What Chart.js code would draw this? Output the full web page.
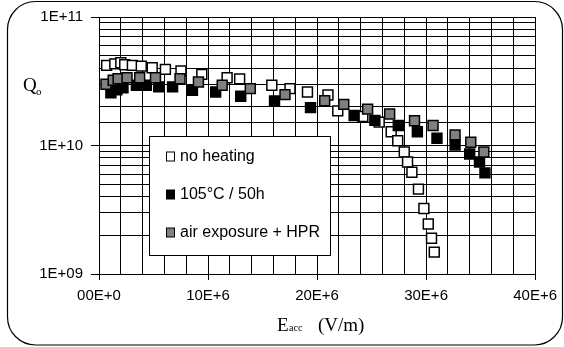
<!DOCTYPE html>
<html lang="en">
<head>
    <meta charset="UTF-8">
    <title>Q0 vs Eacc</title>
    <script src="https://cdn.jsdelivr.net/npm/chart.js"></script>
    <style>
        body { margin: 0; background: #fff; }
        canvas { display: block; }
    </style>
</head>
<body>
    <canvas id="qeChart" width="564" height="347"></canvas>
    <script>
        // accelerating field (V/m) and quality factor for each treatment
        const eNoHeat = [0.70e6, 1.45e6, 2.0e6, 2.36e6, 3.06e6, 3.88e6, 4.88e6, 6.09e6, 7.52e6, 9.43e6, 11.75e6, 12.9e6, 15.85e6, 17.52e6, 19.12e6, 21.0e6, 21.9e6, 24.2e6, 25.7e6, 26.8e6, 27.4e6, 28.0e6, 28.3e6, 28.7e6, 29.3e6, 29.8e6, 30.2e6, 30.5e6, 30.75e6];
        const qNoHeat = [4.20e10, 4.32e10, 4.40e10, 4.25e10, 4.20e10, 4.15e10, 4.03e10, 3.91e10, 3.80e10, 3.58e10, 3.37e10, 3.30e10, 2.94e10, 2.77e10, 2.61e10, 2.47e10, 1.86e10, 1.68e10, 1.52e10, 1.28e10, 1.09e10, 8.9e9, 7.45e9, 6.2e9, 4.58e9, 3.23e9, 2.45e9, 1.90e9, 1.48e9];

        const eBaked = [1.09e6, 1.64e6, 2.2e6, 3.43e6, 4.34e6, 5.48e6, 6.75e6, 8.57e6, 10.7e6, 13.0e6, 16.1e6, 19.4e6, 23.4e6, 25.3e6, 27.45e6, 29.2e6, 31.0e6, 32.66e6, 34.0e6, 34.9e6, 35.4e6];
        const qBaked = [2.57e10, 2.71e10, 2.81e10, 2.94e10, 2.94e10, 2.86e10, 2.86e10, 2.69e10, 2.61e10, 2.42e10, 2.22e10, 1.97e10, 1.71e10, 1.57e10, 1.43e10, 1.28e10, 1.14e10, 1.01e10, 8.58e9, 7.45e9, 6.12e9];

        const eAirHpr = [0.64e6, 1.3e6, 1.75e6, 2.57e6, 3.73e6, 5.18e6, 7.43e6, 9.12e6, 11.3e6, 13.88e6, 17.06e6, 20.7e6, 22.45e6, 24.64e6, 26.66e6, 28.94e6, 30.64e6, 32.66e6, 34.1e6, 35.3e6];
        const qAirHpr = [3.0e10, 3.22e10, 3.31e10, 3.37e10, 3.37e10, 3.37e10, 3.31e10, 3.12e10, 2.94e10, 2.77e10, 2.49e10, 2.23e10, 2.09e10, 1.92e10, 1.76e10, 1.56e10, 1.43e10, 1.21e10, 1.06e10, 8.9e9];

        const seriesLabels = ['no heating', '105°C / 50h', 'air exposure + HPR'];
        const xTickLabels = ['00E+0', '10E+6', '20E+6', '30E+6', '40E+6'];
        const yTickLabels = ['1E+09', '1E+10', '1E+11'];

        const SANS = '"Liberation Sans", Arial, sans-serif';
        const SERIF = '"Liberation Serif", "Times New Roman", serif';

        function points(xs, ys) {
            return xs.map((x, i) => ({ x: x, y: ys[i] }));
        }

        function isDecade(v) {
            const e = Math.round(Math.log10(v));
            return Math.abs(v - Math.pow(10, e)) < 1;
        }

        // rounded frame around the whole figure
        const framePlugin = {
            id: 'frame',
            beforeDraw(chart) {
                const c = chart.ctx;
                c.save();
                c.fillStyle = '#fff';
                c.fillRect(0, 0, chart.width, chart.height);
                c.beginPath();
                c.roundRect(7.5, 1.5, 555, 343.5, 28);
                c.strokeStyle = '#000';
                c.lineWidth = 1.2;
                c.stroke();
                c.restore();
            }
        };

        // boxed legend sitting inside the plot area
        const boxLegend = {
            id: 'boxLegend',
            afterDatasetsDraw(chart) {
                const c = chart.ctx;
                c.save();
                c.fillStyle = '#fff';
                c.fillRect(149.5, 136.5, 181, 119);
                c.strokeStyle = '#000';
                c.lineWidth = 1;
                c.strokeRect(149.5, 136.5, 181, 119);
                c.font = '16px ' + SANS;
                c.textBaseline = 'middle';
                const rows = [156, 194, 232];
                chart.data.datasets.forEach((ds, i) => {
                    const y = rows[i];
                    c.fillStyle = ds.backgroundColor;
                    c.fillRect(166.5, y - 4, 8, 9);
                    c.strokeStyle = '#000';
                    c.lineWidth = 1;
                    c.strokeRect(166.5, y - 4, 8, 9);
                    c.fillStyle = '#000';
                    c.fillText(ds.label, 180, y + 1);
                });
                c.restore();
            }
        };

        // axis titles with subscripts
        const axisTitles = {
            id: 'axisTitles',
            afterDraw(chart) {
                const c = chart.ctx;
                c.save();
                c.fillStyle = '#000';
                c.textBaseline = 'alphabetic';
                c.font = '19px ' + SERIF;
                c.fillText('Q', 23, 91);
                c.font = '11px ' + SERIF;
                c.fillText('o', 36, 95);

                c.font = '19px ' + SERIF;
                c.fillText('E', 277, 331);
                c.font = '10px ' + SERIF;
                c.fillText('acc', 289, 331);
                c.font = '19px ' + SERIF;
                c.fillText('(V/m)', 318, 331);
                c.restore();
            }
        };

        const ctx = document.getElementById('qeChart').getContext('2d');
        new Chart(ctx, {
            type: 'scatter',
            data: {
                datasets: [
                    {
                        label: seriesLabels[0],
                        data: points(eNoHeat, qNoHeat),
                        backgroundColor: '#ffffff',
                        borderColor: '#000',
                        order: 3
                    },
                    {
                        label: seriesLabels[1],
                        data: points(eBaked, qBaked),
                        backgroundColor: '#000000',
                        borderColor: '#000',
                        order: 2
                    },
                    {
                        label: seriesLabels[2],
                        data: points(eAirHpr, qAirHpr),
                        backgroundColor: '#808080',
                        borderColor: '#000',
                        order: 1
                    }
                ]
            },
            options: {
                responsive: false,
                animation: false,
                layout: { padding: { left: 0, right: 25, top: 14, bottom: 0 } },
                elements: {
                    point: { pointStyle: 'rect', radius: 7, borderWidth: 1.5 }
                },
                plugins: {
                    legend: { display: false },
                    tooltip: { enabled: false }
                },
                scales: {
                    x: {
                        type: 'linear',
                        min: 0,
                        max: 40e6,
                        afterFit: s => { s.height = 73; },
                        border: { color: '#000', width: 1 },
                        grid: {
                            color: '#000',
                            lineWidth: 1,
                            tickLength: 6,
                            tickColor: c => (c.tick && c.tick.value % 10e6 === 0) ? '#000' : 'rgba(0,0,0,0)'
                        },
                        ticks: {
                            stepSize: 2e6,
                            autoSkip: false,
                            maxRotation: 0,
                            padding: 7,
                            color: '#000',
                            font: { family: SANS, size: 15 },
                            callback: v => v % 10e6 === 0 ? xTickLabels[Math.round(v / 10e6)] : ''
                        }
                    },
                    y: {
                        type: 'logarithmic',
                        min: 1e9,
                        max: 1e11,
                        afterFit: s => { s.width = 99; },
                        border: { color: '#000', width: 1 },
                        grid: {
                            color: '#000',
                            lineWidth: 1,
                            tickLength: 8,
                            tickColor: c => (c.tick && isDecade(c.tick.value)) ? '#000' : 'rgba(0,0,0,0)'
                        },
                        ticks: {
                            autoSkip: false,
                            padding: 8,
                            color: '#000',
                            font: { family: SANS, size: 15 },
                            callback: v => isDecade(v) ? yTickLabels[Math.round(Math.log10(v)) - 9] : ''
                        }
                    }
                }
            },
            plugins: [framePlugin, boxLegend, axisTitles]
        });
    </script>
</body>
</html>
